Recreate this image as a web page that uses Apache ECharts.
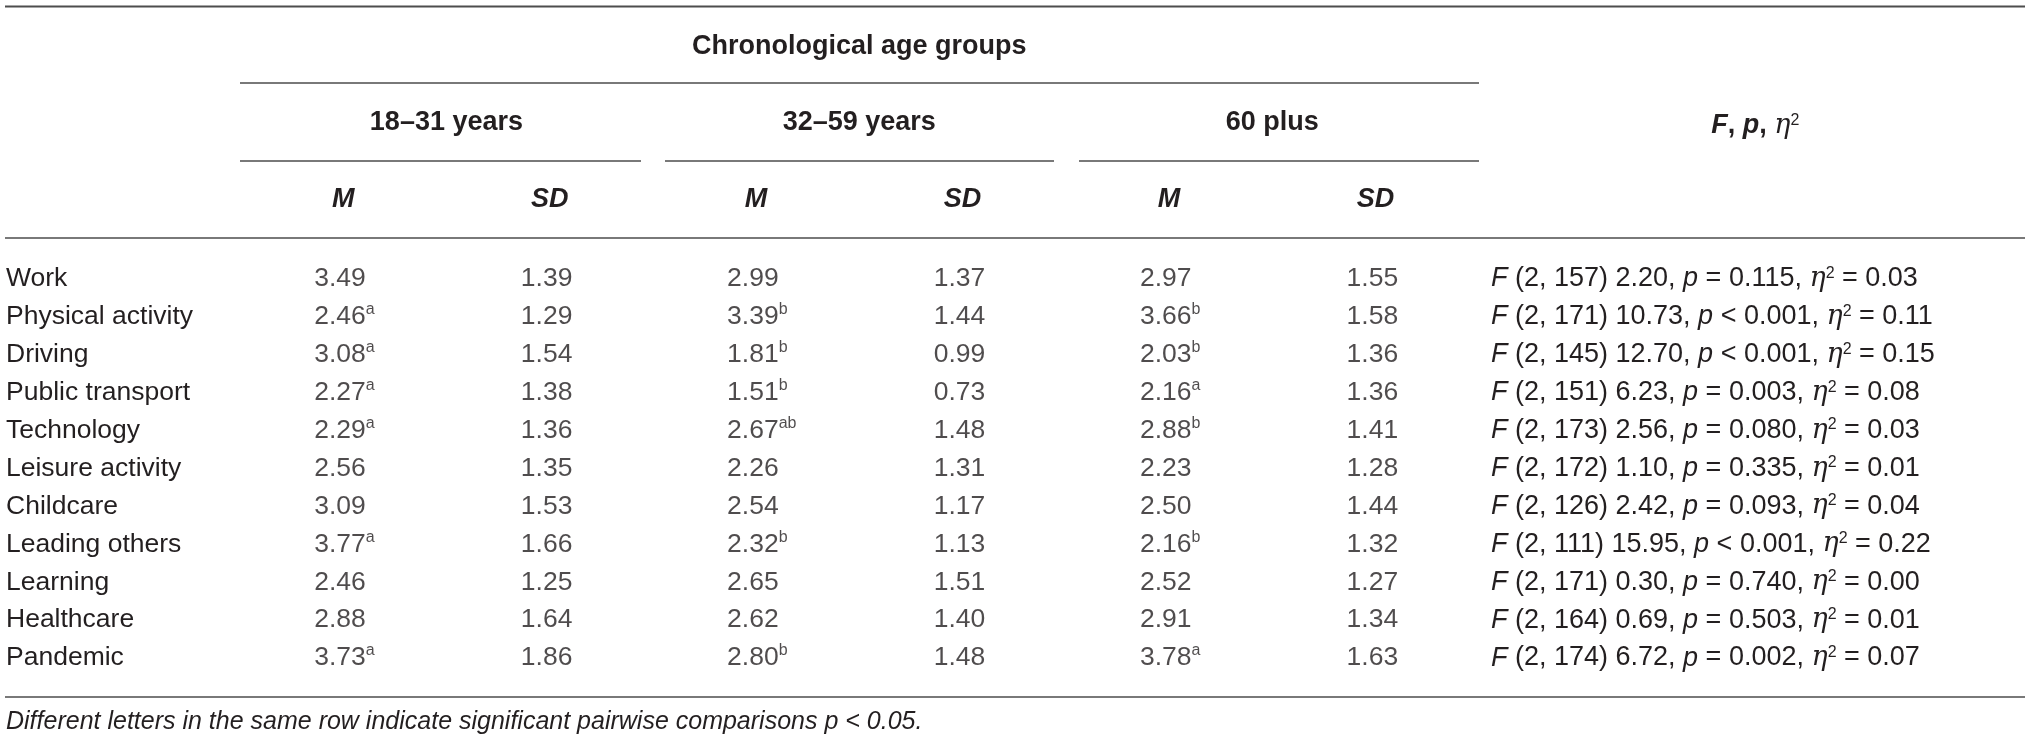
<!DOCTYPE html>
<html>
<head>
<meta charset="utf-8">
<title>Chronological age groups</title>
<script src="https://cdn.jsdelivr.net/npm/echarts@6/dist/echarts.min.js"></script>
<style>
  html, body { margin: 0; padding: 0; background: #fff; }
  #main { width: 2032px; height: 747px; }
</style>
</head>
<body>
<div id="main"></div>
<script type="text/javascript">
    // table rows
    var domains = ['Work', 'Physical activity', 'Driving', 'Public transport', 'Technology',
        'Leisure activity', 'Childcare', 'Leading others', 'Learning', 'Healthcare', 'Pandemic'];
    var groups = ['18\u201331 years', '32\u201359 years', '60 plus'];
    var subCols = ['M', 'SD', 'M', 'SD', 'M', 'SD'];
    var topHeader = 'Chronological age groups';

    // means, letters and SDs per age group
    var m1831 = [3.49, 2.46, 3.08, 2.27, 2.29, 2.56, 3.09, 3.77, 2.46, 2.88, 3.73];
    var sup1831 = ['', 'a', 'a', 'a', 'a', '', '', 'a', '', '', 'a'];
    var sd1831 = [1.39, 1.29, 1.54, 1.38, 1.36, 1.35, 1.53, 1.66, 1.25, 1.64, 1.86];
    var m3259 = [2.99, 3.39, 1.81, 1.51, 2.67, 2.26, 2.54, 2.32, 2.65, 2.62, 2.80];
    var sup3259 = ['', 'b', 'b', 'b', 'ab', '', '', 'b', '', '', 'b'];
    var sd3259 = [1.37, 1.44, 0.99, 0.73, 1.48, 1.31, 1.17, 1.13, 1.51, 1.40, 1.48];
    var m60 = [2.97, 3.66, 2.03, 2.16, 2.88, 2.23, 2.50, 2.16, 2.52, 2.91, 3.78];
    var sup60 = ['', 'b', 'b', 'a', 'b', '', '', 'b', '', '', 'a'];
    var sd60 = [1.55, 1.58, 1.36, 1.36, 1.41, 1.28, 1.44, 1.32, 1.27, 1.34, 1.63];

    // ANOVA column
    var dfErr = [157, 171, 145, 151, 173, 172, 126, 111, 171, 164, 174];
    var fVal = [2.20, 10.73, 12.70, 6.23, 2.56, 1.10, 2.42, 15.95, 0.30, 0.69, 6.72];
    var pVal = [0.115, 0.001, 0.001, 0.003, 0.080, 0.335, 0.093, 0.001, 0.740, 0.503, 0.002];
    var pLess = [false, true, true, false, false, false, false, true, false, false, false];
    var eta2 = [0.03, 0.11, 0.15, 0.08, 0.03, 0.01, 0.04, 0.22, 0.00, 0.01, 0.07];

    var footnote = 'Different letters in the same row indicate significant pairwise comparisons p < 0.05.';

    var FONT = 'Liberation Sans, Arial, Helvetica, sans-serif';
    var INK = '#231f20';
    var RULE = '#4d4d4d';
    var BODY = 26.5;

    var rich = {
        i: { fontStyle: 'italic', fontWeight: 'normal', fontSize: 27, fontFamily: FONT, color: INK },
        e: { fontStyle: 'italic', fontWeight: 'normal', fontSize: 27, fontFamily: 'DejaVu Serif, serif', color: INK },
        s: { fontSize: 16, fontWeight: 'normal', fontFamily: FONT, color: INK, verticalAlign: 'top', lineHeight: 15 },
        bi: { fontStyle: 'italic', fontWeight: 'bold', fontSize: 27, fontFamily: FONT, color: INK },
        b: { fontWeight: 'bold', fontSize: 27, fontFamily: FONT, color: INK },
        v: { fontSize: BODY, fontFamily: FONT, color: INK, lineHeight: 30 }
    };

    function statText(i) {
        return '{i|F} (2, ' + dfErr[i] + ') ' + fVal[i].toFixed(2) + ', {i|p} ' +
            (pLess[i] ? '<' : '=') + ' ' + pVal[i].toFixed(3) + ', {e|\u03b7}{s|2} = ' + eta2[i].toFixed(2);
    }

    var cols = [
        { m: m1831, sup: sup1831, sd: sd1831 },
        { m: m3259, sup: sup3259, sd: sd3259 },
        { m: m60, sup: sup60, sd: sd60 }
    ];

    var series = [];
    cols.forEach(function (c, g) {
        series.push({
            type: 'scatter', xAxisIndex: 0, yAxisIndex: 0, symbolSize: 0, silent: true,
            data: c.m.map(function (v, i) { return [2 * g, i]; }),
            label: {
                show: true, position: 'inside', align: 'left', verticalAlign: 'middle', offset: [-29, 0],
                formatter: function (p) {
                    var t = '{v|' + c.m[p.dataIndex].toFixed(2) + '}';
                    return c.sup[p.dataIndex] ? t + '{s|' + c.sup[p.dataIndex] + '}' : t;
                },
                rich: rich
            }
        });
        series.push({
            type: 'scatter', xAxisIndex: 0, yAxisIndex: 0, symbolSize: 0, silent: true,
            data: c.sd.map(function (v, i) { return [2 * g + 1, i]; }),
            label: {
                show: true, position: 'inside', align: 'center', verticalAlign: 'middle', offset: [-3, 0],
                formatter: function (p) { return '{v|' + c.sd[p.dataIndex].toFixed(2) + '}'; },
                rich: rich
            }
        });
    });

    var hiddenAxis = { axisLine: { show: false }, axisTick: { show: false }, splitLine: { show: false } };
    function topAxis(grid, data, offset, label) {
        return Object.assign({
            gridIndex: grid, type: 'category', data: data, position: 'top', offset: offset,
            axisLabel: Object.assign({ margin: 0, verticalAlign: 'middle', interval: 0, fontFamily: FONT,
                color: INK, fontSize: 27, fontWeight: 'bold' }, label)
        }, hiddenAxis);
    }

    var gridTop = 260, gridH = 417;
    var chart = echarts.init(document.getElementById('main'));
    chart.setOption({
        animation: false,
        backgroundColor: '#fff',
        grid: [
            { left: 240, width: 1238.6, top: gridTop, height: gridH },
            { left: 1478.6, right: 0, top: gridTop, height: gridH }
        ],
        xAxis: [
            topAxis(0, subCols.map(function (s, i) { return s + i; }), gridTop - 200, {
                fontStyle: 'italic', formatter: function (v, i) { return subCols[i]; }
            }),
            topAxis(0, groups, gridTop - 123, {}),
            topAxis(0, [topHeader], gridTop - 47, {}),
            topAxis(1, ['F, p, \u03b7\u00b2'], gridTop - 126, {
                formatter: function () { return '{bi|F}{b|, }{bi|p}{b|, }{e|\u03b7}{s|2}'; },
                rich: rich
            })
        ],
        yAxis: [
            Object.assign({
                gridIndex: 0, type: 'category', data: domains, inverse: true, position: 'left',
                axisLabel: { margin: 234, align: 'left', interval: 0, fontFamily: FONT, fontSize: BODY, color: INK }
            }, hiddenAxis),
            Object.assign({
                gridIndex: 0, type: 'category', data: domains, inverse: true, position: 'right',
                axisLabel: { margin: 12.4, align: 'left', interval: 0, fontFamily: FONT, fontSize: 27, color: INK,
                    formatter: function (v, i) { return statText(i); }, rich: rich }
            }, hiddenAxis),
            Object.assign({ gridIndex: 1, type: 'category', data: domains, inverse: true, show: false }, hiddenAxis)
        ],
        series: series,
        graphic: [
            { type: 'line', shape: { x1: 5, y1: 6.5, x2: 2025, y2: 6.5 }, style: { stroke: RULE, lineWidth: 2 } },
            { type: 'line', shape: { x1: 240, y1: 83, x2: 1479, y2: 83 }, style: { stroke: RULE, lineWidth: 1.5 } },
            { type: 'line', shape: { x1: 240, y1: 161, x2: 641, y2: 161 }, style: { stroke: RULE, lineWidth: 1.5 } },
            { type: 'line', shape: { x1: 665, y1: 161, x2: 1054, y2: 161 }, style: { stroke: RULE, lineWidth: 1.5 } },
            { type: 'line', shape: { x1: 1079, y1: 161, x2: 1479, y2: 161 }, style: { stroke: RULE, lineWidth: 1.5 } },
            { type: 'line', shape: { x1: 5, y1: 238, x2: 2025, y2: 238 }, style: { stroke: RULE, lineWidth: 1.5 } },
            { type: 'line', shape: { x1: 5, y1: 697, x2: 2025, y2: 697 }, style: { stroke: RULE, lineWidth: 1.5 } },
            {
                type: 'text', left: 6, top: 710,
                style: { text: footnote, font: 'italic 25px ' + FONT, fill: INK }
            }
        ]
    });
</script>
</body>
</html>
